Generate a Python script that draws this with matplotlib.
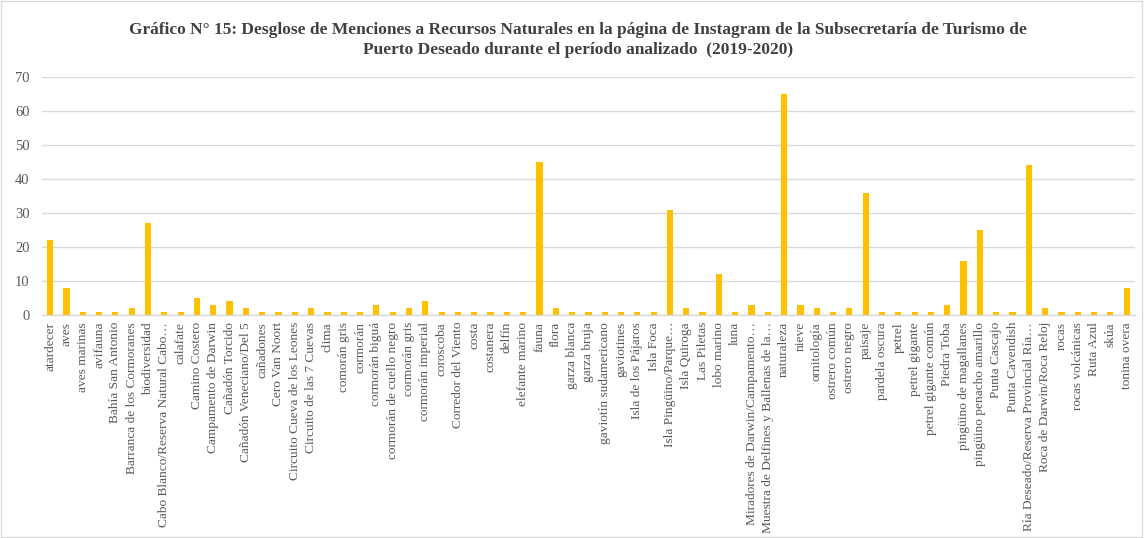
import matplotlib
matplotlib.use("Agg")
import matplotlib.pyplot as plt
from matplotlib.patches import Rectangle

categories = [
    "atardecer", "aves", "aves marinas", "avifauna", "Bahía San Antonio",
    "Barranca de los Cormoranes", "biodiversidad", "Cabo Blanco/Reserva Natural Cabo…",
    "calafate", "Camino Costero", "Campamento de Darwin", "Cañadón Torcido",
    "Cañadón Veneciano/Del 5", "cañadones", "Cero Van Noort",
    "Circuito Cueva de los Leones", "Circuito de las 7 Cuevas", "clima",
    "comorán gris", "cormorán", "cormorán biguá", "cormorán de cuello negro",
    "cormorán gris", "cormorán imperial", "coroscoba", "Corredor del Viento",
    "costa", "costanera", "delfín", "elefante marino", "fauna", "flora",
    "garza blanca", "garza bruja", "gaviotín sudamericano", "gaviotines",
    "Isla de los Pájaros", "Isla Foca", "Isla Pingüino/Parque…", "Isla Quiroga",
    "Las Piletas", "lobo marino", "luna", "Miradores de Darwin/Campamento…",
    "Muestra de Delfines y Ballenas de la…", "naturaleza", "nieve", "ornitología",
    "ostrero común", "ostrero negro", "paisaje", "pardela oscura", "petrel",
    "petrel gigante", "petrel gigante común", "Piedra Toba",
    "pingüino de magallanes", "pingüino penacho amarillo", "Punta Cascajo",
    "Punta Cavendish", "Ría Deseado/Reserva Provincial Ría…",
    "Roca de Darwin/Roca Reloj", "rocas", "rocas volcánicas", "Ruta Azul",
    "skúa", "tonina overa",
]
values = [
    22, 8, 1, 1, 1, 2, 27, 1, 1, 5, 3, 4, 2, 1, 1, 1, 2, 1, 1, 1, 3, 1, 2, 4,
    1, 1, 1, 1, 1, 1, 45, 2, 1, 1, 1, 1, 1, 1, 31, 2, 1, 12, 1, 3, 1, 65, 3, 2,
    1, 2, 36, 1, 1, 1, 1, 3, 16, 25, 1, 1, 44, 2, 1, 1, 1, 1, 8,
]
y_ticks = [0, 10, 20, 30, 40, 50, 60, 70]
title = ("Gráfico N° 15: Desglose de Menciones a Recursos Naturales en la página de Instagram de la Subsecretaría de Turismo de\n"
         "Puerto Deseado durante el período analizado  (2019-2020)")

plt.rcParams['font.family'] = ['Liberation Serif', 'DejaVu Serif']

fig = plt.figure(figsize=(11.44, 5.38), dpi=100)
fig.patches.append(Rectangle((0.001, 0.001), 0.997, 0.997, transform=fig.transFigure,
                             fill=False, edgecolor='#d9d9d9', linewidth=1))
ax = fig.add_axes([0.0367, 0.4145, 0.9553, 0.4425])

x = list(range(len(categories)))
ax.bar(x, values, width=0.38, color='#FFC000', zorder=3)
ax.set_xlim(-0.5, len(categories) - 0.5)
ax.set_ylim(0, 70)
ax.set_yticks(y_ticks)
ax.set_xticks(x)
ax.set_xticklabels(categories, rotation=90, fontsize=9.6, color='#595959')
ax.tick_params(axis='y', labelsize=10.5, labelcolor='#595959', length=0, pad=9)
ax.tick_params(axis='x', length=0, pad=5)
ax.grid(axis='y', color='#d9d9d9', linewidth=1, zorder=0)
for s in ['top', 'right', 'left']:
    ax.spines[s].set_visible(False)
ax.spines['bottom'].set_color('#d9d9d9')
ax.spines['bottom'].set_linewidth(1)

fig.text(0.505, 0.926, title, ha='center', va='center', fontsize=12.5,
         fontweight='bold', color='#404040', linespacing=1.3)

fig.savefig("out.png", dpi=100)
